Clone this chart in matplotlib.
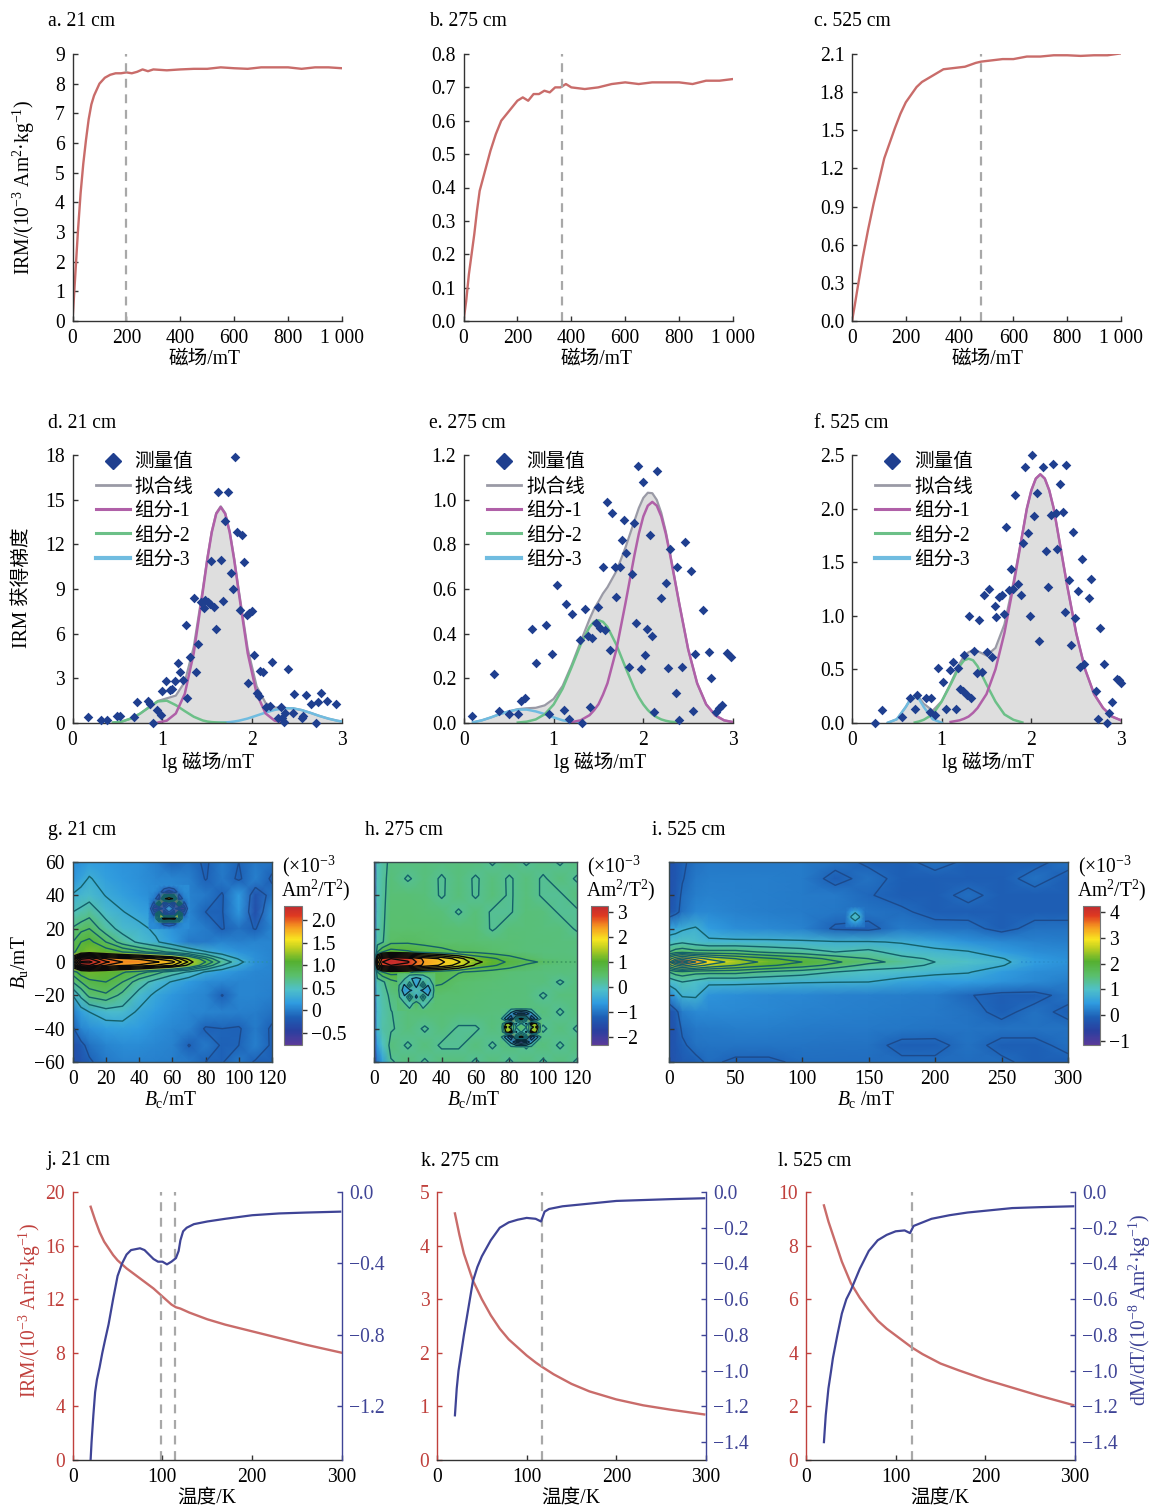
import numpy as np
import matplotlib
matplotlib.use("Agg")
import matplotlib.pyplot as plt
from matplotlib.colors import LinearSegmentedColormap
from matplotlib.lines import Line2D

W, H = 1152, 1510
SERIF = "Liberation Serif"
BOTH = [SERIF, "Noto Sans CJK SC"]
FS = 14.1

plt.rcParams["font.family"] = BOTH
plt.rcParams["font.size"] = FS
plt.rcParams["mathtext.fontset"] = "custom"
plt.rcParams["mathtext.rm"] = SERIF
plt.rcParams["mathtext.it"] = SERIF + ":italic"
plt.rcParams["axes.unicode_minus"] = True

RED = "#c96c6a"
RED_TXT = "#c0403c"
BLUE = "#3f4496"
DASH = "#a8a8a8"
AXC = "#333333"

# --- IRM acquisition, panels a-c
a_x = [0, 10, 20, 30, 40, 50, 60, 70, 80, 100, 120, 140, 160, 180, 200, 220, 240, 260, 280, 300, 350, 400, 450, 500, 550, 600, 650, 700, 750, 800, 850, 900, 950, 1000]
a_y = [0, 1.5, 3.0, 4.3, 5.3, 6.1, 6.8, 7.3, 7.6, 8.0, 8.2, 8.3, 8.35, 8.35, 8.38, 8.35, 8.4, 8.48, 8.42, 8.48, 8.45, 8.48, 8.5, 8.5, 8.55, 8.52, 8.5, 8.55, 8.55, 8.55, 8.5, 8.55, 8.55, 8.52]
b_x = [0, 10, 20, 30, 40, 50, 60, 80, 100, 120, 140, 160, 180, 200, 220, 240, 260, 280, 300, 320, 340, 360, 380, 400, 450, 500, 550, 600, 650, 700, 750, 800, 850, 900, 950, 1000]
b_y = [0, .06, .14, .2, .26, .33, .39, .45, .51, .56, .6, .62, .64, .66, .67, .66, .68, .68, .69, .685, .70, .70, .71, .70, .695, .70, .71, .715, .71, .715, .715, .715, .71, .72, .72, .725]
c_x = [0, 10, 20, 40, 60, 80, 100, 120, 140, 160, 180, 200, 220, 240, 260, 300, 340, 380, 420, 460, 480, 520, 560, 600, 650, 700, 750, 800, 850, 900, 950, 1000]
c_y = [0, .12, .25, .5, .72, .92, 1.1, 1.28, 1.4, 1.52, 1.63, 1.72, 1.78, 1.84, 1.88, 1.93, 1.98, 1.99, 2.0, 2.03, 2.04, 2.05, 2.06, 2.06, 2.08, 2.08, 2.09, 2.09, 2.085, 2.09, 2.09, 2.105]

# --- gradient points, panels d-f
d_px = [.17, .32, .38, .49, .53, .68, .72, .84, .86, .9, .94, .98, 1.0, 1.04, 1.08, 1.11, 1.14, 1.17, 1.2, 1.23, 1.26, 1.28, 1.31, 1.35, 1.38, 1.4, 1.43, 1.46, 1.48, 1.51, 1.53, 1.54, 1.57, 1.6, 1.62, 1.65, 1.68, 1.7, 1.73, 1.76, 1.79, 1.81, 1.83, 1.86, 1.89, 1.91, 1.94, 1.97, 2.0, 2.02, 1.95, 2.05, 2.08, 2.09, 2.12, 2.15, 2.2, 2.22, 2.32, 2.29, 2.33, 2.35, 2.37, 2.4, 2.46, 2.47, 2.55, 2.57, 2.6, 2.65, 2.71, 2.73, 2.77, 2.83, 2.93]
d_py = [.38, .22, .22, .49, .45, .4, 1.4, 1.45, 1.3, 0, .9, .55, 2.15, 2.85, 2.25, 2.3, 2.85, 4.0, 3.45, 2.9, 6.6, 1.7, 4.4, 8.4, 3.4, 5.3, 8.1, 7.75, 8.25, 8.15, 8.0, 10.9, 7.8, 6.3, 15.5, 10.95, 8.2, 13.6, 15.5, 10.1, 9.0, 17.85, 12.8, 7.6, 12.6, 10.8, 7.25, 7.4, 7.5, 4.55, 2.7, 2.0, 1.8, 3.5, 3.4, 1.05, 1.15, 4.1, 1.05, .33, .33, .05, .65, 3.65, .65, 1.95, .33, .5, 1.85, 1.25, 0, 1.4, 2.0, 1.45, 1.27]
e_px = [.085, .33, .39, .5, .6, .64, .68, .76, .8, .91, .95, .98, 1.04, 1.11, 1.14, 1.17, 1.2, 1.29, 1.32, 1.35, 1.38, 1.41, 1.43, 1.47, 1.49, 1.52, 1.55, 1.57, 1.6, 1.63, 1.65, 1.68, 1.7, 1.74, 1.76, 1.78, 1.81, 1.84, 1.87, 1.9, 1.92, 1.94, 1.97, 2.0, 2.02, 2.04, 2.07, 2.1, 2.12, 2.15, 2.2, 2.25, 2.27, 2.3, 2.36, 2.38, 2.4, 2.43, 2.47, 2.53, 2.55, 2.58, 2.66, 2.73, 2.75, 2.81, 2.84, 2.88, 2.93, 2.98]
e_py = [.033, .22, .055, .04, .04, .1, .11, .42, .27, .44, .04, .31, .62, .06, .535, .02, .49, .37, 0, .51, .39, .07, .38, .45, .52, .425, .70, .415, .99, .325, .94, .70, .565, .70, .82, .91, .76, .25, .665, .895, .45, 1.15, .24, 1.08, .305, .42, .84, .39, .05, 1.13, .56, .625, .245, .78, .135, .70, .015, .25, .81, .68, .055, .31, .505, .32, .2, .05, .065, .08, .315, .295]
f_px = [.26, .34, .56, .65, .7, .73, .82, .87, .88, .93, .96, 1.02, 1.05, 1.09, 1.13, 1.16, 1.18, 1.21, 1.25, 1.24, 1.28, 1.31, 1.33, 1.36, 1.39, 1.42, 1.45, 1.47, 1.5, 1.53, 1.56, 1.59, 1.61, 1.64, 1.67, 1.7, 1.72, 1.75, 1.77, 1.8, 1.82, 1.85, 1.88, 1.91, 1.93, 1.96, 1.98, 2.01, 2.03, 2.06, 2.08, 2.13, 2.16, 2.19, 2.22, 2.24, 2.27, 2.29, 2.32, 2.35, 2.37, 2.39, 2.42, 2.44, 2.47, 2.49, 2.52, 2.54, 2.56, 2.59, 2.64, 2.67, 2.72, 2.74, 2.77, 2.81, 2.84, 2.87, 2.9, 2.95, 2.98, 3.0]
f_py = [0, .12, .055, .23, .135, .265, .23, .1, .23, .07, .515, .385, .135, .49, .565, .135, .515, .32, .635, .295, .265, 1.0, .23, .675, .465, .965, .48, 1.19, .66, 1.25, .62, 1.09, .99, 1.18, 1.19, 1.02, 1.83, 1.24, 1.44, 1.25, 2.13, 1.3, 1.19, 1.68, 2.39, 1.77, 1.0, 2.5, 1.93, 2.15, .765, 2.39, 1.6, 1.27, 1.94, 2.42, 1.96, 1.62, 2.23, 1.97, 1.04, 2.41, 1.33, .73, 1.78, .975, 1.235, .525, 1.53, .55, 1.165, 1.34, .295, .04, .89, .555, 0, .09, .2, .415, .4, .37]

# fitted components
d_x = [0, .05, .15, .25, .35, .45, .55, .65, .75, .85, .95, 1.05, 1.15, 1.25, 1.35, 1.45, 1.5, 1.55, 1.6, 1.65, 1.7, 1.75, 1.8, 1.85, 1.95, 2.05, 2.15, 2.25, 2.35, 2.45, 2.55, 2.65, 2.75, 2.85, 2.95, 3.0]
d_c1 = [0, 0, 0, 0, 0, 0, 0, 0, 0, 0, .03, .16, .64, 1.96, 4.7, 8.8, 10.95, 12.8, 14.05, 14.5, 14.05, 12.8, 10.95, 8.8, 4.7, 1.96, .64, .16, .03, 0, 0, 0, 0, 0, 0, 0]
d_c2 = [0, 0, 0, 0, 0, .03, .1, .3, .62, 1.05, 1.45, 1.5, 1.2, .8, .42, .17, .1, .06, .04, .02, .01, 0, 0, 0, 0, 0, 0, 0, 0, 0, 0, 0, 0, 0, 0, 0]
d_c3 = [0, 0, 0, 0, 0, 0, 0, 0, 0, 0, 0, 0, 0, 0, 0, 0, 0, 0, .01, .03, .04, .06, .1, .15, .3, .5, .7, .88, .98, .99, .87, .68, .47, .29, .15, .1]
e_x = [0, .1, .2, .3, .4, .5, .6, .7, .8, .9, 1.0, 1.1, 1.2, 1.3, 1.4, 1.45, 1.5, 1.55, 1.6, 1.7, 1.8, 1.9, 1.95, 2.0, 2.05, 2.1, 2.15, 2.2, 2.25, 2.3, 2.4, 2.5, 2.6, 2.7, 2.8, 2.9, 3.0]
e_c1 = [0, 0, 0, 0, 0, 0, 0, 0, 0, 0, 0, 0, .004, .012, .035, .057, .084, .127, .178, .33, .535, .75, .848, .925, .973, .99, .973, .925, .848, .75, .535, .33, .178, .084, .035, .012, .004]
e_c2 = [0, 0, 0, 0, 0, 0, .002, .006, .016, .039, .083, .154, .25, .35, .43, .453, .46, .453, .43, .35, .25, .154, .115, .083, .058, .039, .026, .016, .01, .006, .002, 0, 0, 0, 0, 0, 0]
e_c3 = [0, .003, .012, .025, .04, .052, .06, .06, .052, .04, .025, .012, .005, .001, 0, 0, 0, 0, 0, 0, 0, 0, 0, 0, 0, 0, 0, 0, 0, 0, 0, 0, 0, 0, 0, 0, 0]
f_x = [0, .1, .2, .3, .4, .5, .6, .65, .7, .75, .8, .9, 1.0, 1.1, 1.2, 1.25, 1.3, 1.35, 1.4, 1.5, 1.6, 1.7, 1.8, 1.9, 1.95, 2.0, 2.05, 2.1, 2.15, 2.2, 2.25, 2.3, 2.4, 2.5, 2.6, 2.7, 2.8, 2.9, 3.0]
f_c1 = [0, 0, 0, 0, 0, 0, 0, 0, 0, 0, 0, 0, 0, .01, .025, .04, .06, .095, .14, .27, .5, .84, 1.28, 1.76, 2.0, 2.17, 2.28, 2.32, 2.28, 2.17, 2.0, 1.76, 1.28, .84, .5, .27, .14, .06, .025]
f_c2 = [0, 0, 0, 0, 0, 0, 0, 0, .005, .015, .03, .08, .2, .36, .53, .585, .6, .585, .53, .36, .2, .08, .03, .005, 0, 0, 0, 0, 0, 0, 0, 0, 0, 0, 0, 0, 0, 0, 0]
f_c3 = [0, 0, 0, 0, .003, .035, .15, .22, .25, .22, .15, .035, .003, 0, 0, 0, 0, 0, 0, 0, 0, 0, 0, 0, 0, 0, 0, 0, 0, 0, 0, 0, 0, 0, 0, 0, 0, 0, 0]

# --- FORC grids, panels g-i
bu_rows = [60, 50, 40, 30, 20, 12, 6, 2, 0, -2, -6, -12, -20, -30, -40, -50, -60]
g_cols = [0, 5, 10, 20, 30, 40, 50, 60, 70, 80, 90, 100, 110, 120]
g_z = [
    [.1, .12, .18, .15, .12, .1, .02, -.12, -.05, -.15, .0, -.12, -.02, -.05],
    [.12, .22, .32, .2, .14, .1, .06, .04, .02, -.13, -.02, -.15, .02, -.15],
    [.32, .38, .42, .29, .2, .13, .08, .06, .03, -.02, -.14, .16, -.25, -.05],
    [.5, .55, .62, .42, .31, .22, .15, .09, .05, -.12, -.13, .14, -.3, .1],
    [.72, .8, .85, .6, .42, .36, .26, .12, .06, .0, -.13, -.05, -.13, .05],
    [.85, 1.0, 1.05, .85, .62, .46, .33, .18, -.02, -.02, .04, .02, .04, .04],
    [.95, 1.12, 1.2, 1.1, 1.0, .9, .78, .65, .5, .32, .2, .12, .08, .05],
    [1.5, 2.1, 2.15, 1.9, 1.8, 1.75, 1.65, 1.55, 1.25, .85, .5, .28, .1, .05],
    [1.7, 2.3, 2.3, 2.05, 1.9, 1.9, 1.8, 1.7, 1.4, 1.0, .65, .38, .1, .05],
    [1.5, 2.1, 2.15, 1.9, 1.8, 1.75, 1.65, 1.55, 1.25, .85, .5, .28, .1, .05],
    [.92, 1.08, 1.15, 1.12, 1.02, .92, .78, .6, .48, .28, .18, .1, .06, .05],
    [.7, .85, .95, 1.0, .85, .6, .42, .28, .15, .08, .06, .05, .05, .03],
    [.3, .55, .75, .82, .65, .42, .25, .14, .08, .05, -.13, .05, .04, .02],
    [.0, .2, .3, .42, .42, .26, .16, .1, .06, .04, .03, .02, .01, -.05],
    [-.15, .05, .1, .18, .2, .16, .1, .06, .03, -.14, -.12, -.14, .0, -.15],
    [-.3, -.18, -.05, .05, .08, .08, .06, .03, -.13, -.02, -.14, -.12, .02, -.15],
    [-.3, -.25, -.15, -.02, .03, .03, .02, .01, -.02, -.12, -.13, -.02, -.14, -.15],
]
h_cols = [0, 2, 5, 10, 20, 30, 40, 50, 60, 70, 80, 90, 100, 110, 120]
h_z = [
    [-2.0, .0, .12, .34, .36, .36, .34, .36, .36, .22, .36, .22, .34, .22, .36],
    [-2.0, .0, .14, .38, .22, .36, .22, .36, .22, .36, .22, .36, .22, .36, .22],
    [-2.0, .0, .16, .4, .4, .38, .22, .38, .22, .38, .22, .36, .22, .22, .36],
    [-2.0, .0, .18, .42, .42, .4, .38, .22, .38, .22, .22, .38, .36, .22, .22],
    [-1.8, .02, .2, .44, .46, .44, .42, .4, .4, .22, .38, .38, .36, .36, .22],
    [-1.2, .1, .22, .52, .55, .5, .46, .44, .42, .4, .4, .38, .38, .36, .36],
    [-.8, .6, .9, 1.05, .95, .8, .7, .6, .55, .47, .4, .38, .36, .36, .34],
    [-.2, 2.0, 2.8, 3.0, 2.85, 2.3, 2.05, 1.65, 1.15, .95, .75, .55, .4, .38, .36],
    [.1, 2.2, 3.0, 3.2, 3.05, 2.35, 2.15, 1.85, 1.3, 1.05, .85, .7, .55, .4, .38],
    [-.2, 2.0, 2.8, 3.0, 2.85, 2.3, 2.05, 1.65, 1.15, .95, .75, .55, .4, .38, .36],
    [-.8, .6, .9, 1.05, .95, .8, .72, .62, .55, .47, .4, .38, .36, .36, .34],
    [-1.2, .05, .18, .48, .72, .72, .64, .47, .42, .4, .38, .36, .36, .22, .36],
    [-1.6, -.1, .1, .32, .44, .44, .42, .42, .4, .38, .38, .36, .22, .36, .36],
    [-1.8, -.15, .05, .24, .38, .4, .4, .38, .38, .36, .36, .36, .36, .22, .36],
    [-1.8, -.2, .1, .22, .36, .22, .36, .22, .22, .36, .22, .36, .22, .36, .22],
    [-2.0, -.6, -.1, .36, .22, .36, .22, .22, .36, .22, .36, .22, .36, .22, .36],
    [-2.0, -1.0, -.6, .22, .36, .22, .36, .36, .22, .36, .22, .36, .22, .36, .22],
]
i_cols = [0, 5, 10, 20, 30, 50, 75, 100, 125, 150, 175, 200, 225, 250, 275, 300]
i_z = [
    [-.3, -.2, -.05, .1, .15, .15, .15, .18, .1, -.05, -.08, .1, -.05, -.05, -.08, .1],
    [-.3, -.2, -.02, .15, .2, .2, .2, .18, -.1, .1, -.08, -.1, -.1, -.1, .1, -.1],
    [-.3, -.15, .05, .2, .25, .22, .2, .18, .15, .02, -.1, -.1, .08, -.1, -.1, -.1],
    [-.25, -.1, .1, .28, .3, .25, .2, .18, .14, .12, .05, -.1, -.1, -.1, -.1, -.1],
    [.55, .6, .7, .8, .5, .35, .3, .25, -.05, -.1, .18, .12, .1, -.1, .1, .1],
    [.95, 1.0, 1.05, .95, .85, .85, .85, .82, .78, .78, .72, .58, .4, .3, .25, .2],
    [1.4, 1.55, 1.6, 1.5, 1.5, 1.5, 1.35, 1.25, 1.1, 1.2, .95, .85, .78, .5, .35, .3],
    [2.5, 3.0, 3.3, 2.9, 2.6, 2.3, 2.05, 1.85, 1.6, 1.4, 1.2, 1.05, .92, .78, .45, .35],
    [3.0, 3.9, 4.2, 3.5, 3.0, 2.5, 2.2, 2.0, 1.75, 1.5, 1.3, 1.1, 1.0, .85, .5, .4],
    [2.5, 3.0, 3.3, 2.9, 2.6, 2.3, 2.05, 1.85, 1.6, 1.3, 1.2, 1.05, .92, .78, .45, .35],
    [1.4, 1.55, 1.6, 1.5, 1.5, 1.5, 1.35, 1.25, 1.1, 1.0, .95, .85, .78, .5, .35, .3],
    [.9, 1.0, 1.1, 1.0, .85, .85, .82, .78, .76, .75, .6, .5, .5, .4, .3, .2],
    [.3, .55, .8, .82, .4, .35, .3, .28, .25, .22, .2, .18, .02, -.1, -.1, .1],
    [-.3, -.1, .2, .3, .3, .3, .28, .25, .22, .2, .18, .15, .1, -.08, .1, -.08],
    [-.3, -.2, .05, .15, .18, .2, .2, .18, .16, .15, .14, .12, .12, .1, .1, .1],
    [-.3, -.2, -.05, .1, .12, .12, .12, .12, .1, .1, -.08, -.08, .1, -.08, -.08, .08],
    [-.3, -.25, -.15, -.08, .05, -.05, -.05, .05, .05, .05, .05, .05, .05, .05, -.08, -.08],
]

# small anomalies
g_ring_bc = [46, 49, 52, 55, 58, 61, 64, 67, 70]
g_ring_bu = [46, 42, 38, 35, 32, 29, 26, 23, 20]
g_ring_z = [
    [.08, .08, .08, .08, .08, .08, .08, .08, .08],
    [.08, .08, 0, -.3, -.5, -.3, 0, .08, .08],
    [.08, 0, -.4, 1.2, 1.6, 1.2, -.4, 0, .08],
    [.08, -.2, 1.0, -.7, -.3, -.7, 1.0, -.2, .08],
    [.08, -.6, -.7, -.2, .3, -.2, -.7, -.6, .08],
    [.08, -.2, 1.3, -.7, -.3, -.7, 1.3, -.2, .08],
    [.08, 0, .8, 1.5, 1.4, 1.5, .8, 0, .08],
    [.08, .08, 0, -.2, -.3, -.2, 0, .08, .08],
    [.08, .08, .08, .08, .08, .08, .08, .08, .08],
]
h_ring1_bc = [14, 18, 21, 25, 29, 32, 36]
h_ring1_bu = [-7, -10, -14, -17, -21, -25, -29]
h_ring1_z = [
    [.44, .44, .44, .44, .44, .44, .44],
    [.42, .3, -.2, -.5, -.2, .2, .42],
    [.42, -.4, .8, -.6, .9, -.3, .42],
    [.42, -.7, -.5, .1, -.5, -.7, .42],
    [.42, -.2, .9, -.5, .8, -.2, .42],
    [.42, .3, -.1, .6, -.1, .3, .42],
    [.4, .4, .4, .4, .4, .4, .4],
]
h_ring2_bc = [75, 78, 81, 84, 87, 90, 93, 96, 99]
h_ring2_bu = [-28, -31, -34, -37, -39, -42, -45, -48, -51]
h_ring2_z = [
    [.34, .34, .34, .34, .34, .34, .34, .34, .34],
    [.34, .3, -.5, -1.4, -1.8, -1.4, -.5, .3, .34],
    [.34, -.6, -1.6, .9, 1.4, .9, -1.6, -.6, .34],
    [.34, 1.2, 1.7, -.4, .3, -.4, 1.7, 1.2, .34],
    [.34, 1.6, .9, .3, .5, .3, .9, 1.6, .34],
    [.34, 1.2, 1.7, -.4, .3, -.4, 1.7, 1.2, .34],
    [.34, -.6, -1.6, .9, 1.4, .9, -1.6, -.6, .34],
    [.34, .3, -.5, -1.6, -2.1, -1.6, -.5, .3, .34],
    [.34, .34, .34, .34, .34, .34, .34, .34, .34],
]
i_spot_bc = [133, 137, 140, 143, 147]
i_spot_bu = [33, 30, 27, 24, 21]
i_spot_z = [
    [.12, .12, .12, .12, .12],
    [.12, .5, .7, .5, .12],
    [.12, .8, 1.05, .8, .12],
    [.12, .45, .65, .45, .12],
    [.1, .1, .1, .1, .1],
]

# --- temperature curves, panels j-l
j_t = [20, 25, 30, 35, 40, 45, 50, 60, 70, 80, 90, 100, 110, 115, 120, 130, 150, 170, 200, 230, 260, 300]
j_m = [18.9, 17.9, 17, 16.3, 15.8, 15.3, 14.9, 14.3, 13.8, 13.3, 12.8, 12.2, 11.6, 11.4, 11.3, 11.0, 10.5, 10.1, 9.6, 9.1, 8.6, 8.0]
j_dt = [20, 21, 23, 25, 27, 30, 33, 36, 40, 45, 50, 55, 60, 65, 70, 75, 80, 85, 90, 95, 100, 105, 110, 115, 118, 120, 123, 127, 135, 150, 170, 200, 230, 260, 298]
j_d = [-1.495, -1.4, -1.25, -1.12, -1.05, -.98, -.9, -.83, -.74, -.6, -.47, -.4, -.35, -.325, -.32, -.315, -.325, -.35, -.375, -.39, -.39, -.405, -.39, -.37, -.33, -.27, -.22, -.2, -.18, -.165, -.15, -.13, -.12, -.115, -.11]
k_t = [20, 25, 30, 40, 50, 60, 70, 80, 90, 100, 110, 116, 130, 150, 170, 200, 230, 260, 298]
k_m = [4.6, 4.2, 3.85, 3.35, 3.0, 2.7, 2.45, 2.25, 2.1, 1.95, 1.82, 1.75, 1.6, 1.42, 1.28, 1.13, 1.02, .94, .85]
k_dt = [20, 22, 24, 27, 30, 35, 40, 45, 50, 60, 70, 80, 90, 100, 110, 116, 120, 125, 140, 160, 180, 200, 230, 260, 298]
k_d = [-1.25, -1.1, -1.0, -.9, -.8, -.65, -.5, -.42, -.36, -.27, -.2, -.17, -.155, -.145, -.15, -.165, -.11, -.095, -.08, -.07, -.06, -.05, -.045, -.04, -.035]
l_t = [20, 25, 30, 40, 50, 60, 70, 80, 90, 100, 110, 118, 130, 150, 170, 200, 230, 260, 298]
l_m = [9.5, 8.9, 8.4, 7.4, 6.6, 6.05, 5.6, 5.2, 4.9, 4.65, 4.4, 4.2, 3.95, 3.6, 3.35, 3.0, 2.7, 2.4, 2.05]
l_dt = [20, 22, 25, 28, 30, 35, 40, 45, 50, 60, 70, 80, 90, 100, 110, 116, 120, 125, 140, 160, 180, 200, 230, 260, 298]
l_d = [-1.4, -1.25, -1.1, -1.0, -.93, -.8, -.68, -.6, -.55, -.43, -.33, -.27, -.24, -.22, -.215, -.23, -.19, -.18, -.15, -.13, -.115, -.105, -.09, -.085, -.08]

forc_cmap = LinearSegmentedColormap.from_list("forc", [
    (0.0, "#5a3a9a"), (0.1, "#2a3f9f"), (0.2, "#1d5fb5"), (0.3, "#2f9be0"),
    (0.4, "#4fc0c8"), (0.5, "#5abf6c"), (0.6, "#55b030"), (0.7, "#c0d020"),
    (0.76, "#f8e520"), (0.85, "#f59a20"), (0.93, "#e03a20"), (1.0, "#c02a30"),
])


def axes_px(fig, left, top, right, bottom):
    return fig.add_axes([left / W, 1 - bottom / H, (right - left) / W, (bottom - top) / H])


def put(fig, x, y, s, **kw):
    kw.setdefault("ha", "center")
    kw.setdefault("va", "center")
    kw.setdefault("fontsize", FS)
    return fig.text(x / W, 1 - y / H, s, **kw)


def style(ax, right=False):
    ax.spines["top"].set_visible(False)
    ax.spines["right"].set_visible(right)
    for sp in ax.spines.values():
        sp.set_color(AXC)
        sp.set_linewidth(1.0)
    ax.tick_params(direction="in", length=3.6, width=1.0, pad=5.5, labelsize=FS, color=AXC)


def hide_zero(values):
    arr = np.array(values, dtype=float)
    arr[arr == 0] = np.nan
    return arr


fig = plt.figure(figsize=(W / 100, H / 100), dpi=100)

# row 1
row1 = [
    (72.5, 342, "a. 21 cm", 48, a_x, a_y, 9, list(range(10)), [str(v) for v in range(10)], 200, 205),
    (463.5, 733, "b. 275 cm", 429, b_x, b_y, .8, [i / 10 for i in range(9)], [f"{i / 10:.1f}" for i in range(9)], 365, 597),
    (852, 1121, "c. 525 cm", 814, c_x, c_y, 2.1, [i * .3 for i in range(8)], [f"{i * .3:.1f}" for i in range(8)], 480, 988),
]
for left, right, title, tx, xs, ys, ymax, yt, ytl, vx, lx in row1:
    ax = axes_px(fig, left, 54, right, 321)
    style(ax)
    ax.plot(xs, ys, color=RED, lw=1.7)
    ax.plot([vx, vx], [0, ymax], color=DASH, lw=1.6, dashes=(4, 3), clip_on=False)
    ax.set_xlim(0, 1000)
    ax.set_ylim(0, ymax)
    ax.set_xticks([0, 200, 400, 600, 800, 1000], ["0", "200", "400", "600", "800", "1 000"])
    ax.set_yticks(yt, ytl)
    put(fig, tx, 21.5, title, ha="left")
    put(fig, lx, 359, "磁场/mT")
put(fig, 24, 187, "IRM/(10$^{-3}$ Am$^{2}$·kg$^{-1}$)", rotation=90, family=SERIF)

# row 2
FIT_C, C1, C2, C3 = "#9a9aa6", "#b060a8", "#6cc088", "#70bce0"
row2 = [
    (72.5, 342, "d. 21 cm", 48, d_px, d_py, d_x, d_c1, d_c2, d_c3, 18, [0, 3, 6, 9, 12, 15, 18], ["0", "3", "6", "9", "12", "15", "18"], 208),
    (464, 733, "e. 275 cm", 429, e_px, e_py, e_x, e_c1, e_c2, e_c3, 1.2, [0, .2, .4, .6, .8, 1.0, 1.2], ["0.0", "0.2", "0.4", "0.6", "0.8", "1.0", "1.2"], 600),
    (852, 1121, "f. 525 cm", 814, f_px, f_py, f_x, f_c1, f_c2, f_c3, 2.5, [0, .5, 1, 1.5, 2, 2.5], ["0.0", "0.5", "1.0", "1.5", "2.0", "2.5"], 988),
]
for left, right, title, tx, px, py, cx, c1, c2, c3, ymax, yt, ytl, lx in row2:
    ax = axes_px(fig, left, 455, right, 723)
    style(ax)
    fit = np.array(c1) + np.array(c2) + np.array(c3)
    ax.fill_between(cx, fit, color="#dedede", lw=0)
    ax.plot(cx, hide_zero(fit), color=FIT_C, lw=1.6)
    ax.plot(cx, hide_zero(c3), color=C3, lw=1.8)
    ax.plot(cx, hide_zero(c2), color=C2, lw=1.8)
    ax.plot(cx, hide_zero(c1), color=C1, lw=1.8)
    ax.scatter(px, py, marker="D", s=24, color="#1f3f8f", lw=0, zorder=5, clip_on=False)
    ax.set_xlim(0, 3)
    ax.set_ylim(0, ymax)
    ax.set_xticks([0, 1, 2, 3])
    ax.set_yticks(yt, ytl)
    handles = [
        Line2D([], [], ls="", marker="D", ms=8, color="#1f3f8f"),
        Line2D([], [], color=FIT_C, lw=2),
        Line2D([], [], color=C1, lw=2.2),
        Line2D([], [], color=C2, lw=2.2),
        Line2D([], [], color=C3, lw=3),
    ]
    leg = ax.legend(handles, ["测量值", "拟合线", "组分-1", "组分-2", "组分-3"], frameon=False,
                    loc="upper left", bbox_to_anchor=(23 / (right - left), 1.006),
                    borderpad=0, borderaxespad=0, handlelength=1.75, handletextpad=.25, labelspacing=.27)
    put(fig, tx, 423, title, ha="left")
    put(fig, lx, 762, "lg 磁场/mT")
put(fig, 22, 588, "IRM 获得梯度", rotation=90)

# row 3
forc = [
    dict(box=(72.7, 272), cbar=(284, 302), title="g. 21 cm", tx=48, cols=g_cols, z=g_z, lim=(-.765, 2.31),
         levels=[-.12, .3, .5, .7, .85, 1.0, 1.3, 1.42, 1.54, 1.66, 1.78, 1.9, 2.02, 2.14, 2.26],
         patch_levels=[-.5, -.35, -.12, .3, .5, .7, .85, 1.0, 1.3],
         dark=1.2, ticks=[-.5, 0, .5, 1, 1.5, 2], labels=["−0.5", "0", "0.5", "1.0", "1.5", "2.0"],
         xlim=120, xt=[0, 20, 40, 60, 80, 100, 120], label="$B_{\\mathrm{c}}$/mT", lx=170, cx=282,
         dots=(103, 120), dotc="#2a8fb0", lowc="#1c4a8c",
         patches=[(g_ring_bc, g_ring_bu, g_ring_z)]),
    dict(box=(374, 577), cbar=(591, 608), title="h. 275 cm", tx=365, cols=h_cols, z=h_z, lim=(-2.32, 3.24),
         levels=[.25, .6, .9, 1.2, 1.5, 1.8, 2.1, 2.4, 2.7, 3.0],
         patch_levels=[-1.5, -.9, -.3, .25, .6, .9, 1.2, 1.5],
         dark=1.1, ticks=[-2, -1, 0, 1, 2, 3], labels=["−2", "−1", "0", "1", "2", "3"],
         xlim=120, xt=[0, 20, 40, 60, 80, 100, 120], label="$B_{\\mathrm{c}}$/mT", lx=473, cx=587,
         dots=(100, 120), dotc="#3a9a60", lowc="#0a2a3a",
         patches=[(h_ring1_bc, h_ring1_bu, h_ring1_z), (h_ring2_bc, h_ring2_bu, h_ring2_z)]),
    dict(box=(669, 1068), cbar=(1083, 1100), title="i. 525 cm", tx=652, cols=i_cols, z=i_z, lim=(-1.155, 4.23),
         levels=[0, .75, 1.1, 1.4, 1.7, 2.0, 2.3, 2.7, 3.1, 3.5, 3.9],
         patch_levels=[.75],
         dark=9, ticks=[-1, 0, 1, 2, 3, 4], labels=["−1", "0", "1", "2", "3", "4"],
         xlim=300, xt=[0, 50, 100, 150, 200, 250, 300], label="$B_{\\mathrm{c}}$ /mT", lx=866, cx=1078,
         dots=(265, 300), dotc="#2a8fd0", lowc="#1c4a8c",
         patches=[(i_spot_bc, i_spot_bu, i_spot_z)]),
]
for p in forc:
    ax = axes_px(fig, p["box"][0], 862, p["box"][1], 1062)
    vmin, vmax = p["lim"]
    mesh = ax.pcolormesh(p["cols"], bu_rows, np.array(p["z"], dtype=float), cmap=forc_cmap, vmin=vmin, vmax=vmax,
                         shading="gouraud", rasterized=True)

    def line_colors(levels):
        out = []
        for lev in levels:
            if lev >= p["dark"]:
                out.append("#0a0a0a")
            elif lev <= .12:
                out.append(p["lowc"])
            else:
                out.append("#14606a")
        return out

    ax.contour(p["cols"], bu_rows, np.array(p["z"], dtype=float), levels=p["levels"],
               colors=line_colors(p["levels"]), linewidths=1.0, linestyles="solid")
    for bc, bu, z in p["patches"]:
        zz = np.array(z, dtype=float)
        ax.pcolormesh(bc, bu, zz, cmap=forc_cmap, vmin=vmin, vmax=vmax, shading="gouraud", zorder=2)
        ax.contour(bc, bu, zz, levels=p["patch_levels"], colors=line_colors(p["patch_levels"]), linewidths=.9,
                   linestyles="solid", zorder=3)
    ax.plot(p["dots"], [0, 0], color=p["dotc"], lw=1.2, ls=":", zorder=4)
    ax.set_xlim(0, p["xlim"])
    ax.set_ylim(-60, 60)
    for sp in ax.spines.values():
        sp.set_color("#3a4a50")
        sp.set_linewidth(1.0)
    ax.tick_params(direction="in", length=3.6, width=1.0, pad=5.5, labelsize=FS, color="#333333")
    ax.set_xticks(p["xt"])
    yt = [-60, -40, -20, 0, 20, 40, 60]
    if p["tx"] == 48:
        ax.set_yticks(yt, ["−60", "−40", "−20", "0", "20", "40", "60"])
    else:
        ax.set_yticks(yt, [""] * 7)
    cax = axes_px(fig, p["cbar"][0], 906, p["cbar"][1], 1045)
    cb = fig.colorbar(mesh, cax=cax)
    cb.set_ticks(p["ticks"], labels=p["labels"])
    cb.ax.tick_params(direction="out", length=3.6, width=1.0, pad=3, labelsize=FS, color="#333333")
    cb.outline.set_edgecolor("#777777")
    cb.outline.set_linewidth(.8)
    put(fig, p["tx"], 830.5, p["title"], ha="left")
    put(fig, p["lx"], 1100, p["label"], family=SERIF)
    put(fig, p["cx"], 866, "(×10$^{-3}$", ha="left", family=SERIF)
    put(fig, p["cx"] - 1, 890, "Am$^{2}$/T$^{2}$)", ha="left", family=SERIF)
put(fig, 20, 962, "$B_{\\mathrm{u}}$/mT", rotation=90, family=SERIF)

# row 4
row4 = [
    (72.7, 342, "j. 21 cm", 47, j_t, j_m, j_dt, j_d, 20, [0, 4, 8, 12, 16, 20], [-1.2, -.8, -.4, 0], [98, 114], 207),
    (437, 706, "k. 275 cm", 421, k_t, k_m, k_dt, k_d, 5, [0, 1, 2, 3, 4, 5], [-1.4, -1.2, -1, -.8, -.6, -.4, -.2, 0], [117], 571),
    (806, 1075, "l. 525 cm", 778, l_t, l_m, l_dt, l_d, 10, [0, 2, 4, 6, 8, 10], [-1.4, -1.2, -1, -.8, -.6, -.4, -.2, 0], [118], 940),
]
for left, right, title, tx, t, m, dt, d, ymax, yt, rt, vlines, lx in row4:
    ax = axes_px(fig, left, 1192, right, 1460)
    style(ax, right=True)
    ax.plot(t, m, color=RED, lw=1.7)
    for vx in vlines:
        ax.plot([vx, vx], [0, ymax], color=DASH, lw=1.6, dashes=(4, 3))
    ax.set_xlim(0, 300)
    ax.set_ylim(0, ymax)
    ax.set_xticks([0, 100, 200, 300])
    ax.set_yticks(yt)
    ax.tick_params(axis="y", colors=RED_TXT)
    ax.spines["left"].set_color(RED_TXT)
    ax.spines["right"].set_visible(False)
    ax2 = ax.twinx()
    ax2.plot(dt, d, color=BLUE, lw=1.6)
    ax2.set_ylim(-1.5, 0)
    ax2.set_yticks(rt, ["0.0" if v == 0 else f"−{abs(v):.1f}" for v in rt])
    ax2.tick_params(axis="y", direction="in", length=3.6, width=1.0, pad=5, labelsize=FS, colors=BLUE)
    ax2.spines["top"].set_visible(False)
    ax2.spines["left"].set_visible(False)
    ax2.spines["bottom"].set_visible(False)
    ax2.spines["right"].set_color(BLUE)
    ax2.spines["right"].set_linewidth(1.0)
    put(fig, tx, 1161, title, ha="left")
    put(fig, lx, 1498, "温度/K")
put(fig, 30, 1310, "IRM/(10$^{-3}$ Am$^{2}$·kg$^{-1}$)", rotation=90, color=RED_TXT, family=SERIF)
put(fig, 1140, 1310, "dM/dT/(10$^{-8}$ Am$^{2}$·kg$^{-1}$)", rotation=90, color=BLUE, family=SERIF)

fig.savefig("out.png", dpi=100)
